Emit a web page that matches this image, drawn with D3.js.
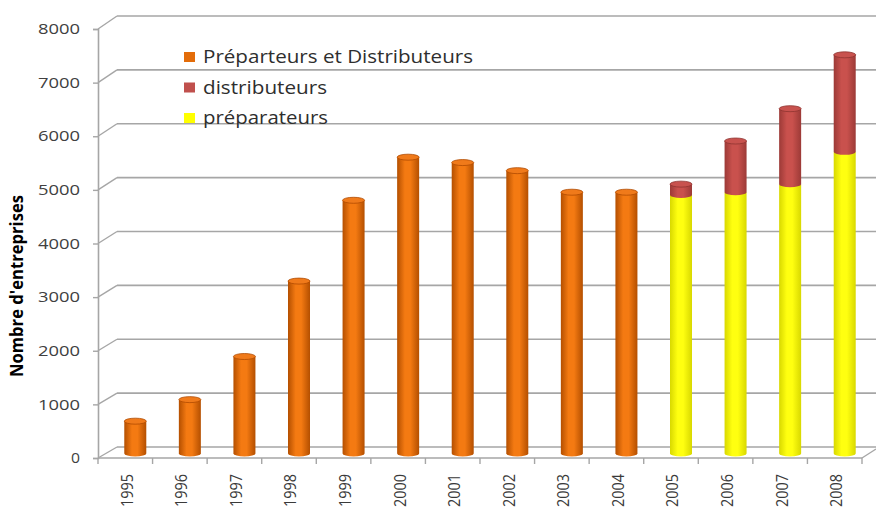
<!DOCTYPE html>
<html><head><meta charset="utf-8">
<script src="https://cdn.jsdelivr.net/npm/d3@7"></script>
<style>body{margin:0;background:#fff}svg{display:block}</style>
</head><body>
<svg id="c" width="876" height="511"></svg>
<script>
const years = ["1995","1996","1997","1998","1999","2000","2001","2002","2003","2004","2005","2006","2007","2008"];
const prepDistrib = [600,1000,1800,3200,4700,5500,5400,5250,4850,4850,0,0,0,0];
const preparateurs = [0,0,0,0,0,0,0,0,0,0,4800,4850,5000,5600];
const distributeurs = [0,0,0,0,0,0,0,0,0,0,200,950,1400,1800];
const yTicks = [0,1000,2000,3000,4000,5000,6000,7000,8000];
const seriesNames = ["Préparteurs et Distributeurs","distributeurs","préparateurs"];
const seriesColors = ["#e36c09","#c0504d","#ffff00"];
const legendLen = [270,124,125];

const svg = d3.select("#c");
const defs = svg.append("defs");
function grad(id, edge, mid){
  const g = defs.append("linearGradient").attr("id",id).attr("x1","0").attr("x2","1").attr("y1","0").attr("y2","0");
  g.append("stop").attr("offset","0").attr("stop-color",edge);
  g.append("stop").attr("offset","0.35").attr("stop-color",mid);
  g.append("stop").attr("offset","0.6").attr("stop-color",mid);
  g.append("stop").attr("offset","1").attr("stop-color",edge);
}
grad("gO","#b44f00","#f47a12");
grad("gR","#9c3a37","#c9514d");
grad("gY","#d8d800","#ffff10");

const x = d3.scaleBand().domain(years).range([98,862]).padding(0);
const yF = d3.scaleLinear().domain([0,8000]).range([458,29]);
const yB = d3.scaleLinear().domain([0,8000]).range([447,16]);
const yM = d3.scaleLinear().domain([0,8000]).range([453.5,22.5]);
const dx = 19, barOff = 10, bw = 22, ry = 3;

const gridC = "#a6a6a6";
yTicks.forEach(t=>{
  svg.append("line").attr("x1",98+dx).attr("x2",876).attr("y1",yB(t)).attr("y2",yB(t))
    .attr("stroke",gridC).attr("stroke-width",1.6);
  svg.append("line").attr("x1",98).attr("x2",98+dx).attr("y1",yF(t)).attr("y2",yB(t))
    .attr("stroke",gridC).attr("stroke-width",1.4);
});
svg.append("line").attr("x1",98).attr("x2",862).attr("y1",yF(0)).attr("y2",yF(0)).attr("stroke",gridC).attr("stroke-width",1.6);
svg.append("line").attr("x1",862).attr("x2",876).attr("y1",yF(0)).attr("y2",yF(0)-9).attr("stroke",gridC).attr("stroke-width",1.4);

const yAxis = d3.axisLeft(yF).tickValues(yTicks).tickSize(5).tickPadding(13).tickFormat(d3.format("d"));
const ya = svg.append("g").attr("transform","translate(98,0)").call(yAxis);
ya.select(".domain").attr("stroke",gridC).attr("stroke-width",1.6);
ya.selectAll(".tick line").attr("stroke",gridC).attr("stroke-width",1.4);
ya.selectAll("text").attr("fill","#404040").style("font-family","'Open Sans',sans-serif").style("font-size","14.5px")
  .attr("textLength",d=>d===0?9:42).attr("lengthAdjust","spacingAndGlyphs");

const xAxis = d3.axisBottom(x).tickSize(0).tickPadding(0);
const xa = svg.append("g").attr("transform",`translate(0,${yF(0)})`).call(xAxis);
xa.select(".domain").remove();
xa.selectAll(".tick text").attr("transform","rotate(-90)").attr("text-anchor","end")
  .attr("x",-16).attr("y",2).attr("dy","0.35em").attr("dx",0)
  .attr("fill","#3a3a3a").style("font-family","'Open Sans',sans-serif").style("font-size","15.5px")
  .attr("textLength",33).attr("lengthAdjust","spacingAndGlyphs");
const edges = years.map(d=>x(d)).concat([x.range()[1]]);
svg.selectAll(".btick").data(edges).enter().append("line")
  .attr("x1",d=>d).attr("x2",d=>d).attr("y1",yF(0)).attr("y2",yF(0)+6)
  .attr("stroke",gridC).attr("stroke-width",1.4);

function cyl(cx, v0, v1, fillId, topColor, edgeColor, drawTop){
  const g = svg.append("g");
  const yTop = yM(v1), yBot = yM(v0);
  g.append("path").attr("d",`M${cx-bw/2},${yTop} L${cx-bw/2},${yBot} A${bw/2},${ry} 0 0 0 ${cx+bw/2},${yBot} L${cx+bw/2},${yTop} Z`)
    .attr("fill",`url(#${fillId})`);
  if(drawTop) g.append("ellipse").attr("cx",cx).attr("cy",yTop).attr("rx",bw/2).attr("ry",ry)
    .attr("fill",topColor).attr("stroke",edgeColor).attr("stroke-width",0.8);
}
years.forEach((yr,i)=>{
  const cx = x(yr)+x.bandwidth()/2+barOff;
  if(prepDistrib[i]>0) cyl(cx,0,prepDistrib[i],"gO","#f07a1a","#b04a00",true);
  if(preparateurs[i]>0) cyl(cx,0,preparateurs[i],"gY","#ffff30","#d8d800",false);
  if(distributeurs[i]>0) cyl(cx,preparateurs[i],preparateurs[i]+distributeurs[i],"gR","#c8524e","#8e3330",true);
});

const lg = svg.append("g");
seriesNames.forEach((n,i)=>{
  const yy = 57 + i*30.5;
  lg.append("rect").attr("x",184).attr("y",yy-5).attr("width",11).attr("height",10).attr("fill",seriesColors[i]);
  lg.append("text").attr("x",203).attr("y",yy).attr("dy","0.35em").text(n)
    .attr("fill","#2e2e2e").style("font-family","'Open Sans',sans-serif").style("font-size","17.5px")
    .attr("textLength",legendLen[i]).attr("lengthAdjust","spacingAndGlyphs");
});

svg.append("text").attr("transform","translate(23,286) rotate(-90)").attr("text-anchor","middle")
  .text("Nombre d'entreprises").attr("fill","#000").attr("textLength",182).attr("lengthAdjust","spacingAndGlyphs")
  .style("font-family","'Open Sans',sans-serif").style("font-size","17px").style("font-weight","700");
</script>
</body></html>
